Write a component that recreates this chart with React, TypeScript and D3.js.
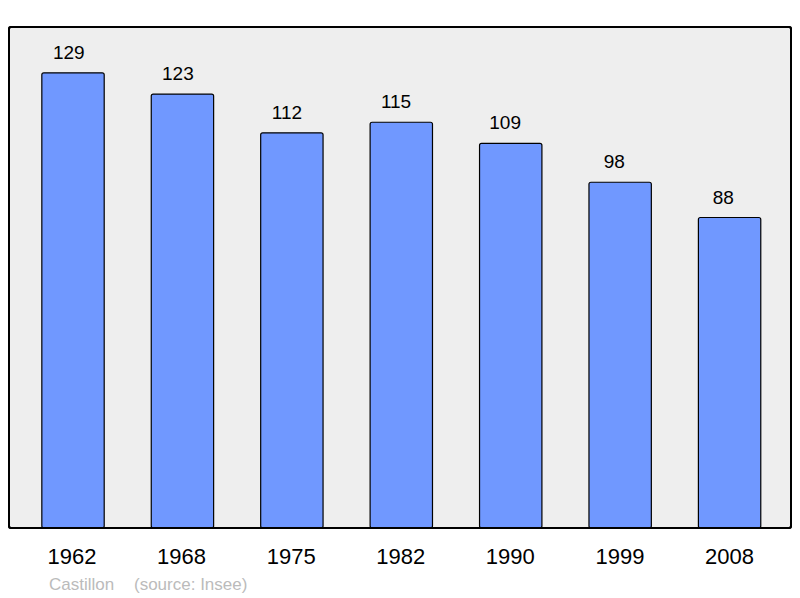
import React from "react";
import * as d3 from "d3";

const years = ["1962", "1968", "1975", "1982", "1990", "1999", "2008"];
const population = [129, 123, 112, 115, 109, 98, 88];
const townName = "Castillon";
const sourceText = "(source: Insee)";

export default function App() {
  const W = 800, H = 598;
  const panel = { x: 9, y: 27, w: 782, h: 501 };
  const x = d3.scaleBand<string>().domain(years).range([18.3, 784.3]).paddingInner(0.43).paddingOuter(0.215);
  const labelX = d3.scalePoint<string>().domain(years).range([68.8, 723.3]);
  const yearX = d3.scalePoint<string>().domain(years).range([72, 729.5]);
  const baseline = panel.y + panel.h;
  const y = d3.scaleLinear().domain([0, 142]).range([baseline, panel.y]);
  return (
    <svg width={W} height={H} style={{ position: "absolute", left: 0, top: 0 }} fontFamily="'Liberation Sans', Arial, sans-serif">
      <rect x={panel.x} y={panel.y} width={panel.w} height={panel.h} rx={2} fill="#eeeeee" stroke="#000" strokeWidth={2} />
      {years.map((yr, i) => {
        const v = population[i];
        const bx = x(yr)!;
        const bw = x.bandwidth();
        return (
          <g key={yr}>
            <rect x={bx} y={y(v)} width={bw} height={baseline - y(v)} rx={2} fill="#7098ff" stroke="#000" strokeWidth={1.2} />
            <text x={labelX(yr)!} y={y(v) - 14} textAnchor="middle" fontSize={19} fill="#000">{v}</text>
            <text x={yearX(yr)!} y={564} textAnchor="middle" fontSize={22} fill="#000">{yr}</text>
          </g>
        );
      })}
      <rect x={panel.x} y={panel.y} width={panel.w} height={panel.h} rx={2} fill="none" stroke="#000" strokeWidth={2} />
      <text x={49} y={590} fontSize={17} fill="#bbbbbb">{townName}</text>
      <text x={134} y={590} fontSize={17} fill="#bbbbbb">{sourceText}</text>
    </svg>
  );
}
